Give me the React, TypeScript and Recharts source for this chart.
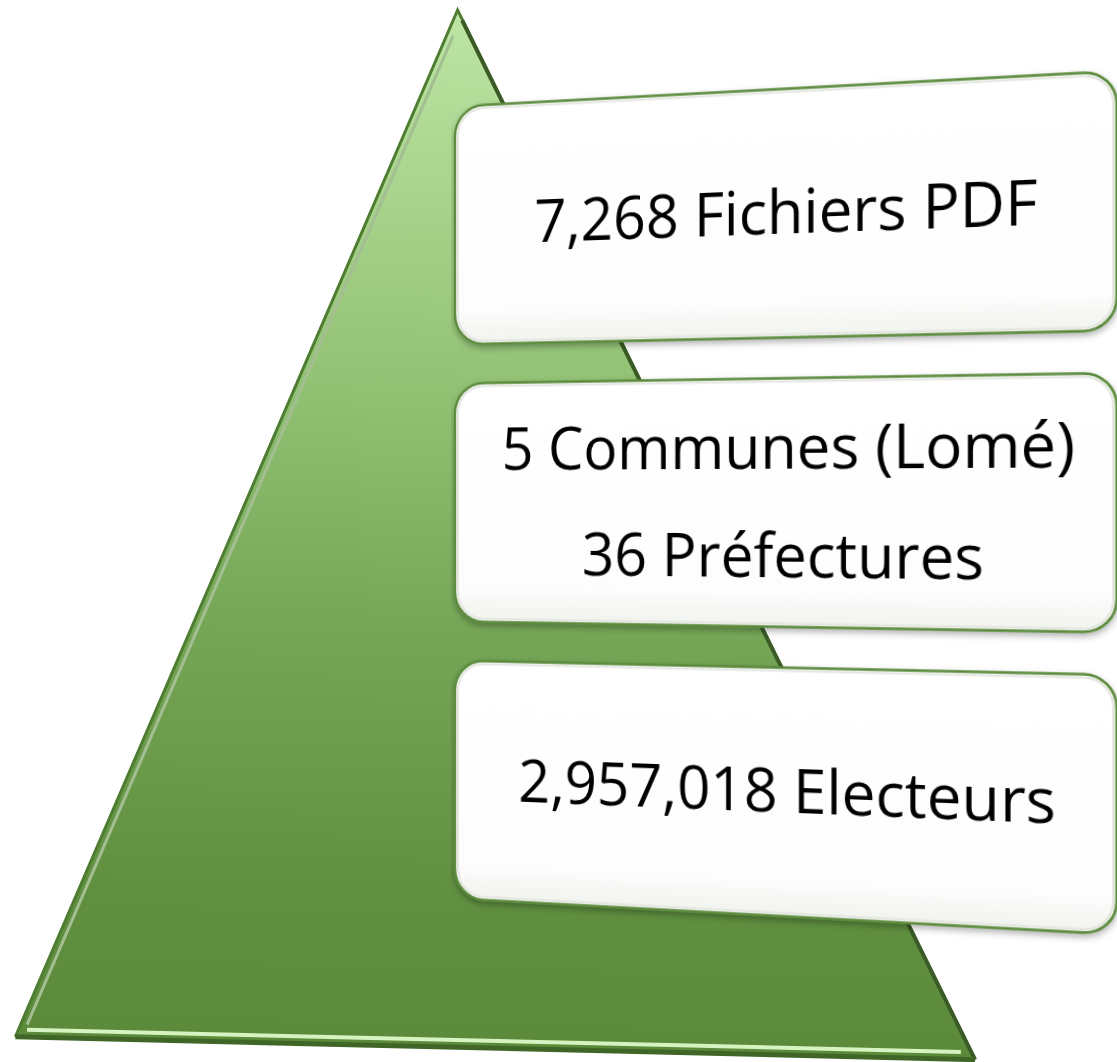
import React from 'react';
import { AreaChart, Area, BarChart, Bar, XAxis, YAxis, ReferenceLine } from 'recharts';

// pyramid outline in data units (x across the base, y up to the apex)
const pyramidX = [0, 0.435, 1];
const pyramidY = [0, 1, 0];

// the three levels of the list
const levelNames = ['Fichiers', 'Circonscriptions', 'Electeurs'];
const levelLines = [
  ['7,268 Fichiers PDF'],
  ['5 Communes (Lomé)', '36 Préfectures'],
  ['2,957,018 Electeurs'],
];
const levelSpan = [1, 1, 1];

const pyramidData = pyramidX.map((x, i) => ({ x, y: pyramidY[i] }));
const boxData = levelNames.map((level, i) => ({ level, span: levelSpan[i], lines: levelLines[i] }));

function LevelBox(props: any) {
  const { x, y, width, height, payload } = props;
  const lines: string[] = payload.lines;
  const cx = x + width / 2 + 6;
  const cy = y + height / 2;
  const gap = 104;
  return (
    <g>
      <rect
        x={x}
        y={y}
        width={width}
        height={height}
        rx={30}
        ry={30}
        fill="url(#boxFill)"
        stroke="#5b8a3c"
        strokeWidth={2.5}
        filter="url(#boxShadow)"
      />
      <rect
        x={x + 3}
        y={y + 3}
        width={width - 6}
        height={height - 6}
        rx={27}
        ry={27}
        fill="none"
        stroke="#e2e6de"
        strokeWidth={2}
      />
      {lines.map((t, i) => (
        <text
          key={t}
          x={cx}
          y={cy + 20 + (i - (lines.length - 1) / 2) * gap}
          textAnchor="middle"
          fontFamily="'Open Sans', sans-serif"
          fontSize={58}
          fontWeight={500}
          fill="#000000"
        >
          {t}
        </text>
      ))}
    </g>
  );
}

export default function App() {
  return (
    <div
      style={{
        position: 'absolute',
        left: 0,
        top: 0,
        width: 1117,
        height: 1062,
        background: '#ffffff',
        overflow: 'hidden',
      }}
    >
      <div
        style={{
          position: 'absolute',
          left: 36,
          top: 6,
          width: 968,
          height: 1047,
          transformOrigin: '421.6px 4px',
          transform: 'rotate(1.37deg)',
        }}
      >
        <AreaChart width={968} height={1047} data={pyramidData} margin={{ top: 4, right: 4, bottom: 6, left: 4 }}>
          <defs>
            <linearGradient id="pyrFill" x1="0" y1="0" x2="0" y2="1">
              <stop offset="0" stopColor="#bde5a4" />
              <stop offset="0.36" stopColor="#92c274" />
              <stop offset="0.59" stopColor="#76a757" />
              <stop offset="0.86" stopColor="#5f8f3f" />
              <stop offset="1" stopColor="#5a8a3a" />
            </linearGradient>
          </defs>
          <XAxis type="number" dataKey="x" domain={[0, 1]} hide />
          <YAxis type="number" domain={[0, 1]} hide />
          <Area
            type="linear"
            dataKey="y"
            stroke="#4e7d32"
            strokeWidth={3}
            fill="url(#pyrFill)"
            fillOpacity={1}
            dot={false}
            activeDot={false}
            isAnimationActive={false}
          />
          {/* bevel highlights and shade along the edges */}
          <ReferenceLine
            segment={[{ x: 0.012, y: 0.012 }, { x: 0.431, y: 0.975 }]}
            stroke="#a3bf92"
            strokeWidth={3}
            ifOverflow="visible"
          />
          <ReferenceLine
            segment={[{ x: 0.44, y: 0.99 }, { x: 1, y: 0 }]}
            stroke="#3a5a26"
            strokeWidth={4}
            ifOverflow="visible"
          />
          <ReferenceLine y={0} stroke="#3f6627" strokeWidth={5} ifOverflow="visible" />
          <ReferenceLine
            segment={[{ x: 0.012, y: 0.007 }, { x: 0.985, y: 0.007 }]}
            stroke="#d6f3c2"
            strokeWidth={4}
            ifOverflow="visible"
          />
        </AreaChart>
      </div>

      <div
        style={{
          position: 'absolute',
          left: 451,
          top: 83,
          width: 654,
          height: 839,
          transformOrigin: '4px 417px',
          transform: 'perspective(2675px) rotateY(-20deg)',
        }}
      >
        <BarChart
          layout="vertical"
          width={654}
          height={839}
          data={boxData}
          margin={{ top: 4, right: 4, bottom: 4, left: 4 }}
          barCategoryGap="7%"
        >
          <defs>
            <linearGradient id="boxFill" x1="0" y1="0" x2="0" y2="1">
              <stop offset="0" stopColor="#ffffff" />
              <stop offset="0.85" stopColor="#fdfdfd" />
              <stop offset="1" stopColor="#f1f3ee" />
            </linearGradient>
            <filter id="boxShadow" x="-5%" y="-5%" width="110%" height="115%">
              <feDropShadow dx="0" dy="3" stdDeviation="3" floodColor="#000000" floodOpacity="0.3" />
            </filter>
          </defs>
          <XAxis type="number" domain={[0, 1]} hide />
          <YAxis type="category" dataKey="level" hide />
          <Bar dataKey="span" shape={(p: any) => <LevelBox {...p} />} isAnimationActive={false} />
        </BarChart>
      </div>
    </div>
  );
}
